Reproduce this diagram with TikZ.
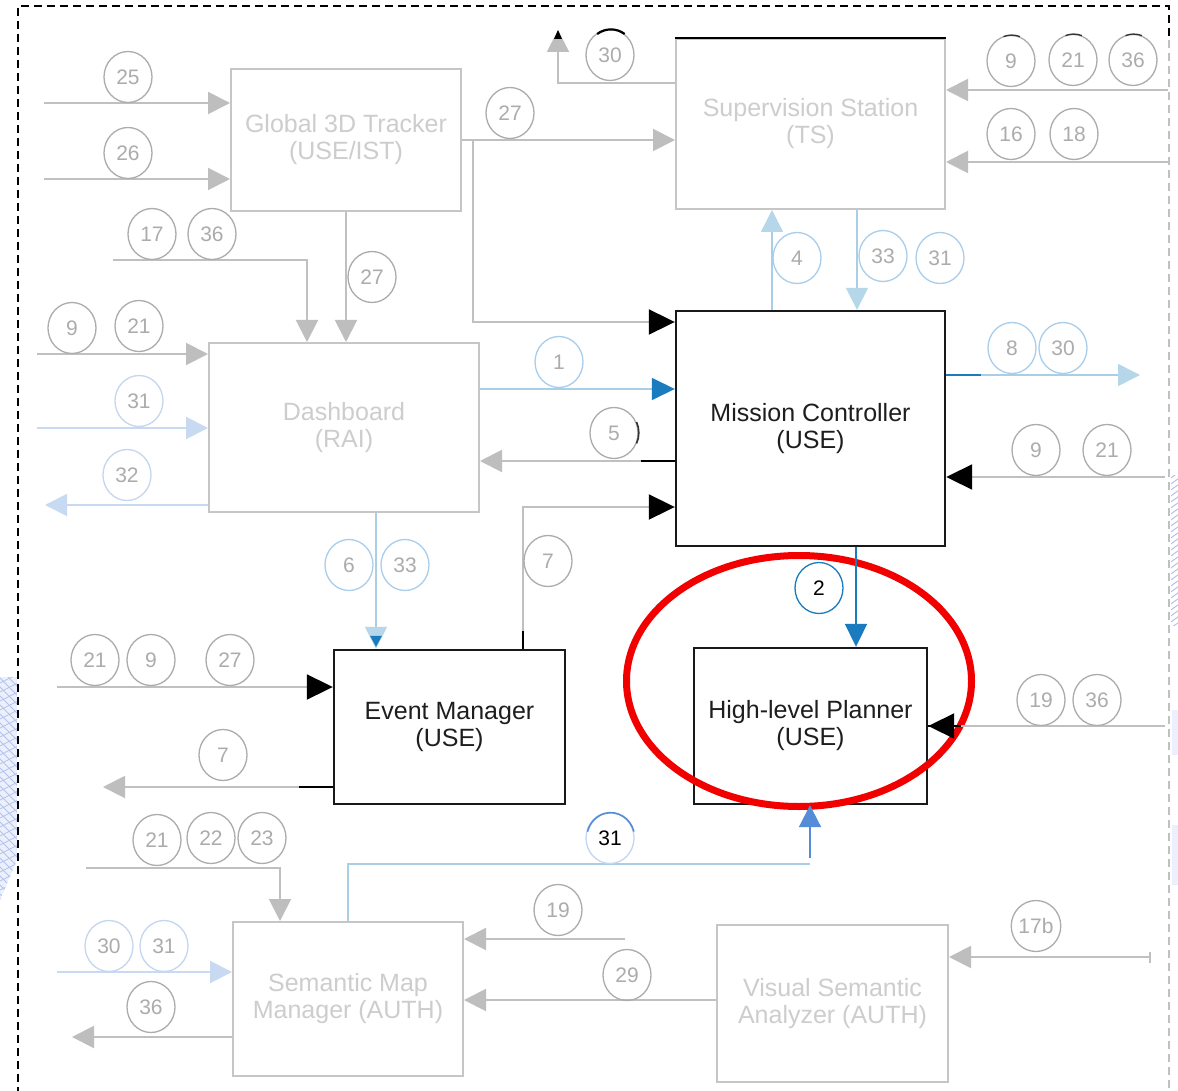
\documentclass[tikz,border=0pt]{standalone}
\usepackage{fontspec}
\setmainfont{Liberation Sans}
\usetikzlibrary{arrows.meta,shapes.geometric,calc}

\definecolor{gline}{RGB}{192,192,192}
\definecolor{garrow}{RGB}{190,190,190}
\definecolor{gborder}{RGB}{198,198,198}
\definecolor{gtext}{RGB}{205,205,205}
\definecolor{tagline}{RGB}{172,172,172}
\definecolor{tagtext}{RGB}{172,172,172}
\definecolor{lbline}{RGB}{170,206,230}
\definecolor{lbfill}{RGB}{182,215,233}
\definecolor{lbcirc}{RGB}{168,206,236}
\definecolor{lavline}{RGB}{200,218,242}
\definecolor{lavcirc}{RGB}{196,214,240}
\definecolor{dkblue}{RGB}{26,124,190}
\definecolor{mdblue}{RGB}{84,140,216}
\definecolor{hlred}{RGB}{242,0,0}
\definecolor{ktext}{RGB}{30,30,30}
\definecolor{meshc}{RGB}{178,196,236}
\definecolor{meshbg}{RGB}{236,240,252}

\newcommand\boxfont{\fontsize{25}{27}\selectfont}
\newcommand\tagfont{\fontsize{21}{21}\selectfont}

\tikzset{
  gtip/.tip={Triangle[length=22pt,width=22pt,color=garrow]},
  ktip/.tip={Triangle[length=26pt,width=25pt,color=black]},
  lbtip/.tip={Triangle[length=22pt,width=22pt,color=lbfill]},
  lavtip/.tip={Triangle[length=22pt,width=22pt,color=lavline]},
  dbtip/.tip={Triangle[length=23pt,width=22pt,color=dkblue]},
  mbtip/.tip={Triangle[length=22pt,width=22pt,color=mdblue]},
  gbox/.style={draw=gborder, line width=2pt, text=gtext, align=center,
    font=\boxfont, inner sep=0pt},
  kbox/.style={draw=black!90, line width=2.4pt, text=ktext, align=center,
    font=\boxfont, inner sep=0pt},
  tag/.style={ellipse, draw=tagline, line width=1.3pt, minimum width=48pt,
    minimum height=51pt, inner sep=0pt, font=\tagfont, text=tagtext},
  btag/.style={tag, draw=lbcirc},
  lavtag/.style={tag, draw=lavcirc},
  gl/.style={draw=gline, line width=2pt},
  kl/.style={draw=black, line width=2pt},
  lbl/.style={draw=lbline, line width=1.6pt},
  lavl/.style={draw=lavline, line width=2pt},
  dkl/.style={draw=dkblue, line width=2pt},
  mbl/.style={draw=mdblue, line width=2pt},
  frame/.style={line width=2pt, dash pattern=on 8pt off 5pt},
  tagcap/.style={line width=1.3pt},
}

\begin{document}
\begin{tikzpicture}[x=1pt,y=-1pt]
\useasboundingbox (0,0) rectangle (1178,1091);
\fill[white] (0,0) rectangle (1178,1091);

% neighbouring mesh graphics peeking in at the edges
\begin{scope}
  \clip (0,677) -- (17,677) -- (17,860) -- (0,900) -- cycle;
  \fill[meshbg] (0,677) rectangle (17,900);
  \foreach \k in {0,9,...,260}
    \draw[meshc, line width=0.8pt] (-10,670+\k) -- (30,650+\k)
                                   (-10,650+\k) -- (30,690+\k);
\end{scope}
\begin{scope}
  \clip (1171,475) rectangle (1178,625);
  \foreach \k in {0,6,...,160}
    \draw[meshc, line width=1pt] (1168,480+\k) -- (1182,470+\k);
\end{scope}
\fill[meshbg] (1172,710) rectangle (1178,755);
\fill[meshbg] (1172,825) rectangle (1178,885);

% dashed enclosure
\draw[frame, black] (18,1095) -- (18,6) -- (1169,6) -- (1169,40);
\draw[frame, gline] (1169,40) -- (1169,1095);

% ---------- components ----------
\node[gbox, minimum width=230pt, minimum height=142pt] (gt) at (346,140)
  {Global 3D Tracker\\(USE/IST)};
\node[gbox, minimum width=269pt, minimum height=170pt] (ts) at (810.5,124)
  {Supervision Station\\(TS)};
\draw[black, line width=2pt] (ts.north west) -- (ts.north east);
\node[gbox, minimum width=270pt, minimum height=169pt] (db) at (344,427.5)
  {Dashboard\\(RAI)};
\node[kbox, minimum width=269pt, minimum height=235pt] (mc) at (810.5,428.5)
  {Mission Controller\\(USE)};
\node[kbox, minimum width=231pt, minimum height=154pt] (em) at (449.5,727)
  {Event Manager\\(USE)};
\node[kbox, minimum width=233pt, minimum height=156pt] (hlp) at (810.5,726)
  {High-level Planner\\(USE)};
\node[gbox, minimum width=230pt, minimum height=154pt] (smm) at (348,999)
  {Semantic Map\\Manager (AUTH)};
\node[gbox, minimum width=231pt, minimum height=157pt] (vsa) at (832.5,1003.5)
  {Visual Semantic\\Analyzer (AUTH)};

% highlight around the planner
\node[draw=hlred, line width=7pt, ellipse, minimum width=345pt,
  minimum height=251pt, inner sep=0pt] (focus) at (799,681) {};

% ---------- Global 3D Tracker ----------
\coordinate (i25) at (44,103);
\draw[gl,-gtip] (i25) -- (i25 -| gt.west);
\node[tag] (t25) at (128,77) {25};
\coordinate (i26) at (44,179);
\draw[gl,-gtip] (i26) -- (i26 -| gt.west);
\node[tag] (t26) at (128,153) {26};

\draw[gl,-gtip] (gt.east) -- (gt.east -| ts.west);
\node[tag] (t27a) at (510,113) {27};
\draw[gl,-ktip] (gt.east) -- ++(11,0) |- ([yshift=106.5pt]mc.west);

\draw[gl,-gtip] (gt.south) -- (gt.south |- db.north);
\node[tag] (t27b) at (372,277) {27};

\coordinate (i17) at (113,260);
\draw[gl,-gtip] (i17) -| ([xshift=-37pt]db.north);
\node[tag] (t17) at (152,234) {17};
\node[tag] (t36a) at (212,234) {36};

% ---------- Supervision Station ----------
\coordinate (o30) at (558,30);
\draw[gl,-gtip] ([yshift=41pt]ts.west) -| (o30);
\fill[black] (o30) -- ++(-4,9) -- ++(8,0) -- cycle;
\node[tag] (t30a) at (610,55) {30};
\draw[black, line width=2.2pt] (t30a.55) arc[start angle=55, end angle=125,
  x radius=24pt, y radius=25.5pt];

\coordinate (i9t) at (1168,90);
\draw[gl,-gtip] (i9t) -- (i9t -| ts.east);
\node[tag] (t9a) at (1011,61) {9};
\node[tag] (t21a) at (1073,60) {21};
\node[tag] (t36b) at (1133,60) {36};
\foreach \t in {t9a,t21a,t36b}
  \draw[black!80, tagcap] (\t.70) arc[start angle=70, end angle=110,
    x radius=24pt, y radius=25.5pt];

\coordinate (i16t) at (1168,162);
\draw[gl,-gtip] (i16t) -- (i16t -| ts.east);
\node[tag] (t16) at (1011,134) {16};
\node[tag] (t18) at (1074,134) {18};

\draw[lbl,-lbtip] ([xshift=-38.5pt]mc.north) -- ([xshift=-38.5pt]mc.north |- ts.south);
\node[btag] (t4) at (797,258) {4};
\draw[lbl,-lbtip] ([xshift=46.5pt]ts.south) -- ([xshift=46.5pt]ts.south |- mc.north);
\node[btag] (t33a) at (883,256) {33};
\node[btag] (t31a) at (940,258) {31};

% ---------- Dashboard ----------
\coordinate (i9d) at (37,354);
\draw[gl,-gtip] (i9d) -- (i9d -| db.west);
\node[tag] (t9b) at (72,328) {9};
\node[tag] (t21b) at (139,326) {21};

\coordinate (i31d) at (37,428);
\draw[lavl,-lavtip] (i31d) -- (i31d -| db.west);
\node[lavtag] (t31b) at (139,401) {31};

\coordinate (o32) at (45,505);
\draw[lavl,-lavtip] (o32 -| db.west) -- (o32);
\node[lavtag] (t32) at (127,475) {32};

\draw[lbl,-dbtip] ([yshift=38.5pt]db.east) -- ([yshift=38.5pt]db.east -| mc.west);
\node[btag] (t1) at (559,362) {1};

\draw[gl,-gtip] ([yshift=-32.5pt]mc.west) -- ([yshift=-32.5pt]mc.west -| db.east);
\draw[kl] ([yshift=-32.5pt]mc.west) -- ++(-34,0);
\node[tag] (t5) at (614,433) {5};
\draw[black!80, line width=1.6pt] (t5.-25) arc[start angle=-25, end angle=25,
  x radius=24pt, y radius=25.5pt];

\draw[lbl,-lbtip] ([xshift=32pt]db.south) -- ([xshift=32pt]db.south |- em.north);
\fill[dkblue] ([xshift=26pt,yshift=13pt]em.north -| db.south)
  -- ([xshift=38pt,yshift=13pt]em.north -| db.south)
  -- ([xshift=32pt,yshift=2pt]em.north -| db.south) -- cycle;
\node[btag] (t6) at (349,565) {6};
\node[btag] (t33b) at (405,565) {33};

% ---------- Event Manager ----------
\draw[gl,-ktip] ([xshift=73.5pt]em.north) |- ([yshift=-78.5pt]mc.west);
\draw[kl] ([xshift=73.5pt]em.north) -- ++(0,-18);
\node[tag] (t7a) at (548,561) {7};

\coordinate (i21e) at (57,687);
\draw[gl,-ktip] (i21e) -- (i21e -| em.west);
\node[tag] (t21c) at (95,660) {21};
\node[tag] (t9c) at (151,660) {9};
\node[tag] (t27c) at (230,660) {27};

\coordinate (o7) at (103,787);
\draw[gl,-gtip] (o7 -| em.west) -- (o7);
\draw[kl] (o7 -| em.west) -- ++(-34,0);
\node[tag] (t7b) at (223,755) {7};

% ---------- Mission Controller ----------
\coordinate (o8) at (1140,375);
\draw[lbl,-lbtip] ([yshift=53.5pt]mc.east) -- (o8);
\draw[dkl] ([yshift=53.5pt]mc.east) -- ++(35,0);
\node[btag] (t8) at (1012,348) {8};
\node[btag] (t30b) at (1063,348) {30};

\coordinate (i9m) at (1165,477);
\draw[gl,-ktip] (i9m) -- (i9m -| mc.east);
\node[tag] (t9d) at (1036,450) {9};
\node[tag] (t21d) at (1107,450) {21};

\draw[dkl,-dbtip] ([xshift=45.5pt]mc.south) -- ([xshift=45.5pt]mc.south |- hlp.north);
\node[tag, draw=dkblue, text=black] (t2) at (819,588) {2};

% ---------- High-level Planner ----------
\coordinate (i19h) at (1165,726);
\draw[gl,-ktip] (i19h) -- (i19h -| hlp.east);
\draw[kl] (i19h -| hlp.east) -- ++(33,0);
\node[tag] (t19a) at (1041,700) {19};
\node[tag] (t36c) at (1097,700) {36};

\coordinate (k31) at (810,864);
\draw[lbl] (smm.north) |- (k31);
\draw[mbl,-mbtip] ([yshift=6pt]k31) -- (k31 |- hlp.south);
\node[lavtag, text=black] (t31c) at (610,838) {31};
\draw[mdblue, line width=1.6pt] (t31c.15) arc[start angle=15, end angle=165,
  x radius=24pt, y radius=25.5pt];

% ---------- Semantic Map Manager ----------
\coordinate (i21s) at (86,868);
\draw[gl,-gtip] (i21s) -| ([xshift=-68pt]smm.north);
\node[tag] (t21e) at (157,840) {21};
\node[tag] (t22) at (211,838) {22};
\node[tag] (t23) at (262,838) {23};

\coordinate (i30s) at (57,972);
\draw[lavl,-lavtip] (i30s) -- (i30s -| smm.west);
\node[lavtag] (t30c) at (109,946) {30};
\node[lavtag] (t31d) at (164,946) {31};

\coordinate (o36s) at (72,1037);
\draw[gl,-gtip] (o36s -| smm.west) -- (o36s);
\node[tag] (t36d) at (151,1007) {36};

\coordinate (i19s) at (625,939);
\draw[gl,-gtip] (i19s) -- (i19s -| smm.east);
\node[tag] (t19b) at (558,910) {19};

\draw[gl,-gtip] ([yshift=3.5pt]vsa.west) -- ([yshift=3.5pt]vsa.west -| smm.east);
\node[tag] (t29) at (627,975) {29};

% ---------- Visual Semantic Analyzer ----------
\coordinate (i17b) at (1150,957);
\draw[gl,-gtip] (i17b) -- (i17b -| vsa.east);
\draw[gl] ([yshift=-6pt]i17b) -- ([yshift=5pt]i17b);
\node[tag] (t17b) at (1036,926) {17b};

\end{tikzpicture}
\end{document}
